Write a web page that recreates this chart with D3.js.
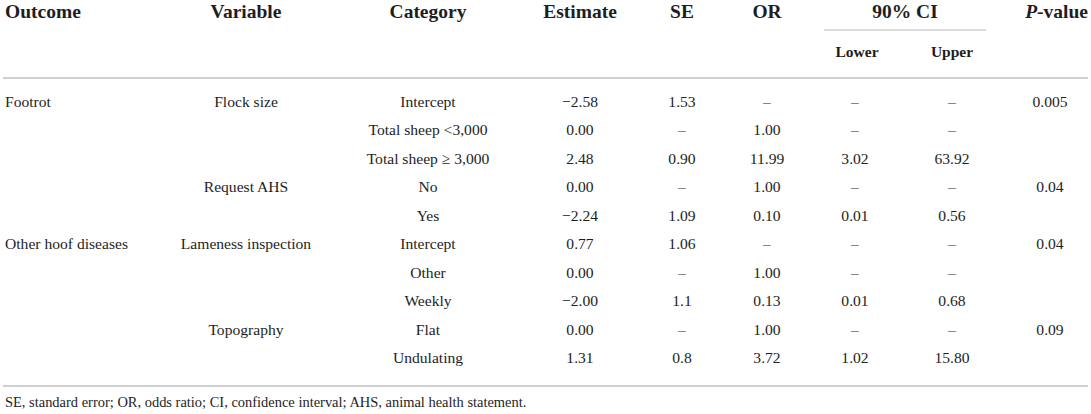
<!DOCTYPE html>
<html>
<head>
<meta charset="utf-8">
<script src="https://cdn.jsdelivr.net/npm/d3@7"></script>
<style>
  html, body { margin: 0; padding: 0; background: #fff; }
  svg { display: block; }
  text { font-family: "Liberation Serif", "Times New Roman", serif; fill: #1e1e1e; }
</style>
</head>
<body>
<div id="chart"></div>
<script>
// ---- data ----
const outcomes   = ["Footrot", "", "", "", "", "Other hoof diseases", "", "", "", ""];
const variables  = ["Flock size", "", "", "Request AHS", "", "Lameness inspection", "", "", "Topography", ""];
const categories = ["Intercept", "Total sheep <3,000", "Total sheep \u2265 3,000", "No", "Yes", "Intercept", "Other", "Weekly", "Flat", "Undulating"];
const estimates  = ["\u22122.58", "0.00", "2.48", "0.00", "\u22122.24", "0.77", "0.00", "\u22122.00", "0.00", "1.31"];
const seValues   = ["1.53", "\u2013", "0.90", "\u2013", "1.09", "1.06", "\u2013", "1.1", "\u2013", "0.8"];
const orValues   = ["\u2013", "1.00", "11.99", "1.00", "0.10", "\u2013", "1.00", "0.13", "1.00", "3.72"];
const ciLower    = ["\u2013", "\u2013", "3.02", "\u2013", "0.01", "\u2013", "\u2013", "0.01", "\u2013", "1.02"];
const ciUpper    = ["\u2013", "\u2013", "63.92", "\u2013", "0.56", "\u2013", "\u2013", "0.68", "\u2013", "15.80"];
const pValues    = ["0.005", "", "", "0.04", "", "0.04", "", "", "0.09", ""];
const headers    = ["Outcome", "Variable", "Category", "Estimate", "SE", "OR", "90% CI", "P-value"];
const subHeaders = ["Lower", "Upper"];
const footnote   = "SE, standard error; OR, odds ratio; CI, confidence interval; AHS, animal health statement.";

// ---- layout ----
const W = 1091, H = 414;
const svg = d3.select("#chart").append("svg").attr("width", W).attr("height", H);

const colKeys = ["outcome", "variable", "category", "estimate", "se", "or", "lower", "upper", "p"];
const colX = d3.scaleOrdinal().domain(colKeys).range([5, 246, 428, 580, 682, 767, 855, 952, 1050]);
const colAnchor = k => k === "outcome" ? "start" : "middle";

const rowIdx = d3.range(categories.length);
const y = d3.scalePoint().domain(rowIdx).range([107, 363]);

const columns = {
  outcome: outcomes, variable: variables, category: categories, estimate: estimates,
  se: seValues, or: orValues, lower: ciLower, upper: ciUpper, p: pValues
};

const ruleColor = "#d0d0d0";

// header
const hdrY = 17.5;
const hdrSize = 19.5;
const hdrCols = ["outcome", "variable", "category", "estimate", "se", "or", null, "p"];
headers.forEach((h, i) => {
  let x, anchor = "middle";
  if (h === "90% CI") x = 905;
  else if (h === "P-value") { x = 1088; anchor = "end"; }
  else { x = colX(hdrCols[i]); anchor = colAnchor(hdrCols[i]); }
  const t = svg.append("text").attr("x", x).attr("y", hdrY)
    .attr("text-anchor", anchor).attr("font-weight", "bold").attr("font-size", hdrSize);
  if (h === "P-value") {
    t.append("tspan").attr("font-style", "italic").text("P");
    t.append("tspan").text("-value");
  } else t.text(h);
});

// CI spanner line
svg.append("line").attr("x1", 824).attr("x2", 986).attr("y1", 30).attr("y2", 30)
  .attr("stroke", ruleColor).attr("stroke-width", 1.5);

subHeaders.forEach((s, i) => {
  svg.append("text").attr("x", i === 0 ? 857 : 952).attr("y", 57)
    .attr("text-anchor", "middle").attr("font-weight", "bold").attr("font-size", 15.5).text(s);
});

// header rule
svg.append("line").attr("x1", 3).attr("x2", 1088).attr("y1", 78).attr("y2", 78)
  .attr("stroke", ruleColor).attr("stroke-width", 2);

// body
colKeys.forEach(k => {
  svg.append("g").selectAll("text").data(rowIdx).join("text")
    .attr("x", colX(k)).attr("y", d => y(d))
    .attr("text-anchor", colAnchor(k)).attr("font-size", 15.6)
    .text(d => columns[k][d]);
});

// bottom rule
svg.append("line").attr("x1", 3).attr("x2", 1088).attr("y1", 386).attr("y2", 386)
  .attr("stroke", ruleColor).attr("stroke-width", 2);

// footnote, sized to span the same width as in the reference
const fn = svg.append("text").attr("x", 5).attr("y", 407).attr("font-size", 14).text(footnote);
const len = fn.node().getComputedTextLength();
if (len > 0) fn.attr("font-size", Math.min(16, 14 * 522 / len));
</script>
</body>
</html>
